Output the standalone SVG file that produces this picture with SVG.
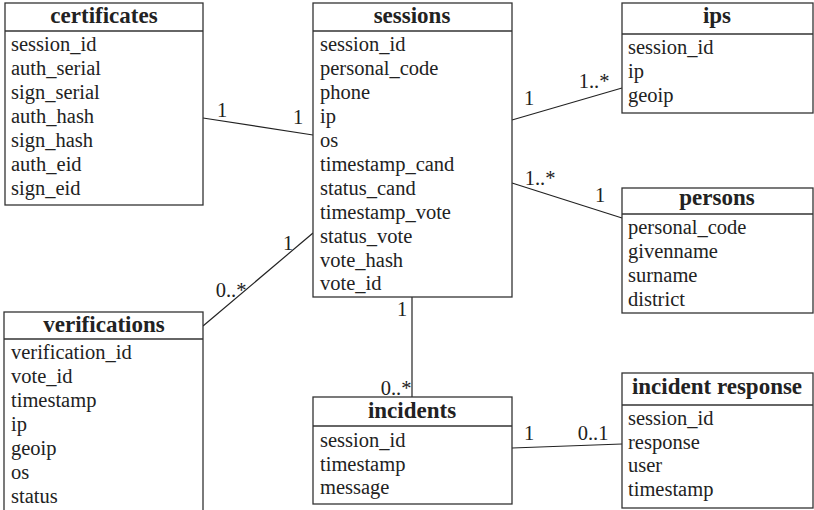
<svg xmlns="http://www.w3.org/2000/svg" width="814" height="510" viewBox="0 0 814 510" font-family="Liberation Serif, DejaVu Serif, serif">
<style>
.box{fill:#fff;stroke:#333;stroke-width:1.3}
.sep{stroke:#333;stroke-width:1.3}
.title{font-weight:bold;font-size:23px;fill:#222;text-anchor:middle}
.row{font-size:20.5px;fill:#222}
.lbl{font-size:20.5px;fill:#222;text-anchor:middle}
.conn{stroke:#222;stroke-width:1.2;fill:none}
</style>
<rect width="814" height="510" fill="#fff"/>
<g id="connectors">
<line class="conn" x1="203" y1="118" x2="313" y2="135"/>
<line class="conn" x1="512" y1="120" x2="622" y2="88"/>
<line class="conn" x1="512" y1="183" x2="622" y2="218"/>
<line class="conn" x1="313" y1="233" x2="203" y2="326"/>
<line class="conn" x1="412" y1="297" x2="412" y2="397"/>
<line class="conn" x1="512" y1="448" x2="622" y2="444"/>
<text class="lbl" x="222" y="117">1</text>
<text class="lbl" x="298" y="124">1</text>
<text class="lbl" x="529" y="105">1</text>
<text class="lbl" x="594" y="88">1..*</text>
<text class="lbl" x="540" y="185">1..*</text>
<text class="lbl" x="600" y="202">1</text>
<text class="lbl" x="288" y="250">1</text>
<text class="lbl" x="231" y="297">0..*</text>
<text class="lbl" x="402" y="316">1</text>
<text class="lbl" x="396" y="395">0..*</text>
<text class="lbl" x="529" y="440">1</text>
<text class="lbl" x="593" y="440">0..1</text>
</g>
<g id="certificates">
<rect class="box" x="5" y="3" width="198" height="202"/>
<line class="sep" x1="5" y1="31" x2="203" y2="31"/>
<text class="title" x="104" y="23">certificates</text>
<text class="row" x="11" y="51">session_id</text>
<text class="row" x="11" y="75">auth_serial</text>
<text class="row" x="11" y="99">sign_serial</text>
<text class="row" x="11" y="123">auth_hash</text>
<text class="row" x="11" y="147">sign_hash</text>
<text class="row" x="11" y="171">auth_eid</text>
<text class="row" x="11" y="195">sign_eid</text>
</g>
<g id="sessions">
<rect class="box" x="313" y="3" width="199" height="294"/>
<line class="sep" x1="313" y1="31" x2="512" y2="31"/>
<text class="title" x="412" y="23">sessions</text>
<text class="row" x="320" y="51">session_id</text>
<text class="row" x="320" y="75">personal_code</text>
<text class="row" x="320" y="99">phone</text>
<text class="row" x="320" y="123">ip</text>
<text class="row" x="320" y="147">os</text>
<text class="row" x="320" y="171">timestamp_cand</text>
<text class="row" x="320" y="195">status_cand</text>
<text class="row" x="320" y="219">timestamp_vote</text>
<text class="row" x="320" y="243">status_vote</text>
<text class="row" x="320" y="267">vote_hash</text>
<text class="row" x="320" y="290">vote_id</text>
</g>
<g id="ips">
<rect class="box" x="622" y="3" width="191" height="110"/>
<line class="sep" x1="622" y1="34" x2="813" y2="34"/>
<text class="title" x="717" y="23">ips</text>
<text class="row" x="628" y="54">session_id</text>
<text class="row" x="628" y="78">ip</text>
<text class="row" x="628" y="102">geoip</text>
</g>
<g id="persons">
<rect class="box" x="622" y="188" width="191" height="125"/>
<line class="sep" x1="622" y1="214" x2="813" y2="214"/>
<text class="title" x="717" y="205">persons</text>
<text class="row" x="628" y="234">personal_code</text>
<text class="row" x="628" y="258">givenname</text>
<text class="row" x="628" y="282">surname</text>
<text class="row" x="628" y="306">district</text>
</g>
<g id="verifications">
<rect class="box" x="4" y="312" width="199" height="202"/>
<line class="sep" x1="4" y1="339" x2="203" y2="339"/>
<text class="title" x="104" y="332">verifications</text>
<text class="row" x="11" y="359">verification_id</text>
<text class="row" x="11" y="383">vote_id</text>
<text class="row" x="11" y="407">timestamp</text>
<text class="row" x="11" y="431">ip</text>
<text class="row" x="11" y="455">geoip</text>
<text class="row" x="11" y="479">os</text>
<text class="row" x="11" y="503">status</text>
</g>
<g id="incidents">
<rect class="box" x="313" y="397" width="199" height="107"/>
<line class="sep" x1="313" y1="426" x2="512" y2="426"/>
<text class="title" x="412" y="418">incidents</text>
<text class="row" x="320" y="447">session_id</text>
<text class="row" x="320" y="471">timestamp</text>
<text class="row" x="320" y="494">message</text>
</g>
<g id="incident-response">
<rect class="box" x="622" y="373" width="191" height="135"/>
<line class="sep" x1="622" y1="405" x2="813" y2="405"/>
<text class="title" x="717" y="394">incident response</text>
<text class="row" x="628" y="425">session_id</text>
<text class="row" x="628" y="449">response</text>
<text class="row" x="628" y="472">user</text>
<text class="row" x="628" y="496">timestamp</text>
</g>
</svg>
